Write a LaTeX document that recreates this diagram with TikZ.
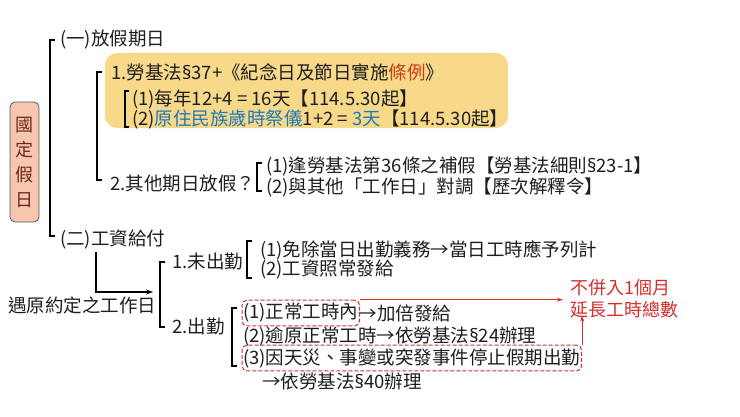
\documentclass[tikz,border=0pt]{standalone}
\usepackage{fontspec}
\setmainfont{Noto Sans CJK TC}
\newfontfamily\symf{Noto Sans}
\newcommand\sect{{\symf §}}
\usetikzlibrary{fit,arrows.meta}
\definecolor{ybox}{RGB}{247,217,137}
\definecolor{salmon}{RGB}{246,198,174}
\definecolor{boxedge}{RGB}{80,90,95}
\definecolor{brown}{RGB}{110,40,30}
\definecolor{tblue}{RGB}{30,120,185}
\definecolor{torange}{RGB}{200,60,25}
\definecolor{nred}{RGB}{215,45,45}
\definecolor{ink}{RGB}{30,30,30}
\tikzset{
  txt/.style={anchor=west,inner sep=0pt,font=\fontsize{18.5}{22}\selectfont,text=ink},
  brk/.style={draw=black,line width=1.3pt},
  dbox/.style={draw=nred,line width=1pt,dash pattern=on 4pt off 2pt,rounded corners=5pt,inner xsep=1pt,inner ysep=3pt},
  rarr/.style={draw=nred,line width=0.8pt,-{Stealth[length=6pt,width=4pt]}},
  karr/.style={draw=black,line width=1.3pt,-{Stealth[length=7pt,width=5pt]}}
}
\begin{document}
\begin{tikzpicture}[x=1pt,y=-1pt]
\useasboundingbox (0,0) rectangle (740,416);
% yellow box
\fill[ybox,rounded corners=12pt] (105,53) rectangle (508,128);
% side box
\node[draw=boxedge,fill=salmon,rounded corners=5pt,line width=0.8pt,minimum width=29pt,minimum height=120pt,inner sep=0pt,align=center,font=\fontsize{18}{25}\selectfont,text=brown] (guo) at (24.5,162) {國\\定\\假\\日};
% main bracket
\draw[brk] (55,40) -- (50,40) -- (50,236) -- (55,236);
\node[txt] (t1) at (60,40) {(一)放假期日};
\node[txt] (n2) at (60,240) {(二)工資給付};
% second bracket
\draw[brk] (102,72) -- (97,72) -- (97,180) -- (102,180);
\node[txt] (y1) at (111,72) {1.勞基法\sect37+《紀念日及節日實施\textcolor{torange}{條例}》};
\draw[brk,line width=1.1pt] (129,91) -- (125,91) -- (125,127) -- (129,127);
\node[txt] (y1a) at (132,99) {(1)每年12+4 = 16天【114.5.30起】};
\node[txt] (y1b) at (132,119) {(2)\textcolor{tblue}{原住民族歲時祭儀}1+2 = \textcolor{tblue}{3天}【114.5.30起】};
\node[txt] (o2) at (110,183) {2.其他期日放假？};
\draw[brk,line width=1.1pt] (262,163) -- (257,163) -- (257,191) -- (262,191);
\node[txt] (o2a) at (266,166) {(1)逢勞基法第36條之補假【勞基法細則\sect23-1】};
\node[txt] (o2b) at (266,187) {(2)與其他「工作日」對調【歷次解釋令】};
% wage part
\node[txt] (meet) at (8,305) {遇原約定之工作日};
\coordinate (vtop) at (96,252);
\coordinate (aend) at (153,292);
\draw[karr] (vtop) |- (aend);
\draw[brk] (165,262) -- (160,262) -- (160,327) -- (165,327);
\node[txt] (a1) at (172,262) {1.未出勤};
\draw[brk,line width=1.1pt] (252,241) -- (247,241) -- (247,278) -- (252,278);
\node[txt] (a1a) at (260,250) {(1)免除當日出勤義務→當日工時應予列計};
\node[txt] (a1b) at (260,270) {(2)工資照常發給};
\node[txt] (a2) at (172,327) {2.出勤};
\draw[brk,line width=1.1pt] (237,308) -- (232,308) -- (232,366) -- (237,366);
\node[txt] (b1) at (243,313) {(1)正常工時內};
\node[txt] (b1r) at (b1.east) {→加倍發給};
\node[txt] (b2) at (243,336) {(2)逾原正常工時→依勞基法\sect24辦理};
\node[txt] (b3) at (243,358) {(3)因天災、事變或突發事件停止假期出勤};
\node[txt] (b4) at (262,381) {→依勞基法\sect40辦理};
\node[dbox,fit=(b1)] (box1) {};
\node[dbox,fit=(b3)] (box3) {};
\node[txt,text=nred,align=left,font=\fontsize{18}{22}\selectfont] (note) at (570,299) {不併入1個月\\延長工時總數};
\draw[rarr] (box1.north east) -- ([xshift=-7pt]box1.north east -| note.west);
\draw[rarr] (box3.north east) -- ([yshift=3pt]box3.north east |- note.south);
\end{tikzpicture}
\end{document}
